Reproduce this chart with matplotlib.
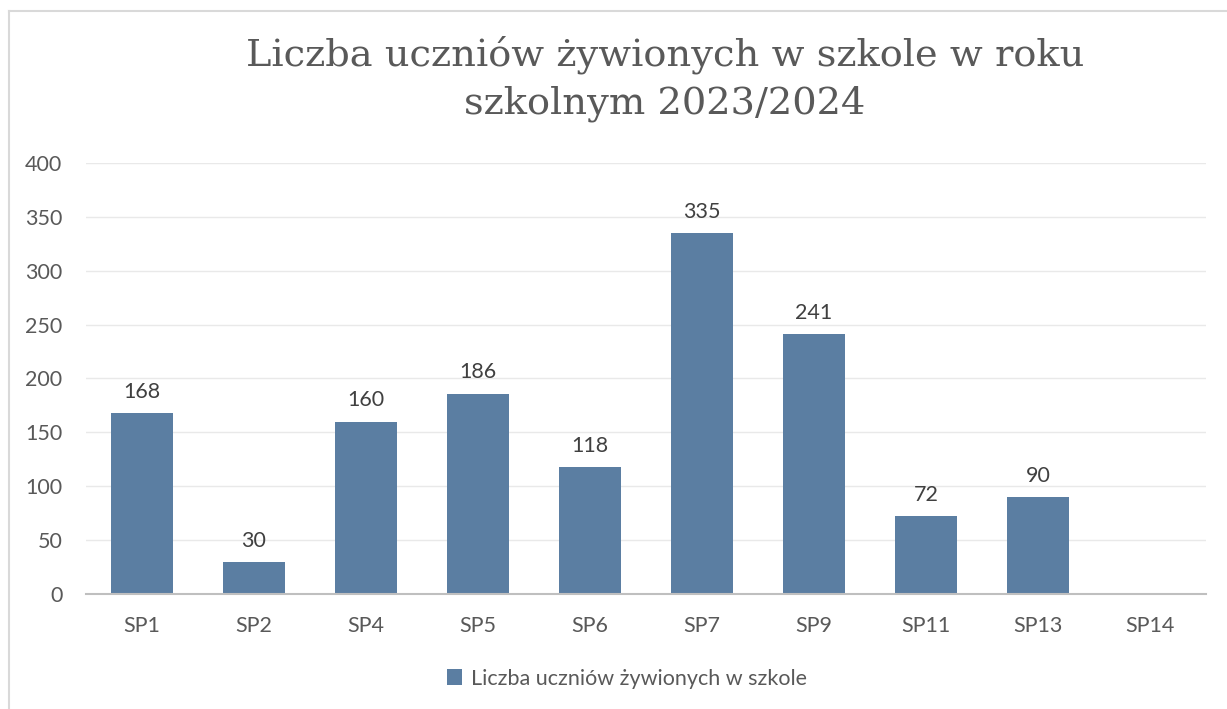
import matplotlib.pyplot as plt
from matplotlib.lines import Line2D
from matplotlib.patches import Patch

OUTPUT_FILE = "out.png"

schools = ["SP1", "SP2", "SP4", "SP5", "SP6", "SP7", "SP9", "SP11", "SP13", "SP14"]
pupils = [168, 30, 160, 186, 118, 335, 241, 72, 90, 0]
y_ticks = [0, 50, 100, 150, 200, 250, 300, 350, 400]

TITLE = "Liczba uczniów żywionych w szkole w roku\nszkolnym 2023/2024"
SERIES = "Liczba uczniów żywionych w szkole"

BAR_COLOR = "#5B7EA2"
TEXT_COLOR = "#595959"
FONT = ["Lato", "DejaVu Sans"]
FS = 15.5


def main():
    plt.rcParams["font.family"] = FONT

    fig = plt.figure(figsize=(12.27, 7.09), dpi=100)
    ax = fig.add_axes([0.0701, 0.1622, 0.9128, 0.6079])

    x = range(len(schools))
    bars = ax.bar(x, pupils, width=0.55, color=BAR_COLOR, zorder=3)

    for b, v in zip(bars, pupils):
        if v > 0:
            ax.annotate(str(v), (b.get_x() + b.get_width() / 2, v),
                        xytext=(0, 8), textcoords="offset points",
                        ha="center", va="bottom", fontsize=FS, color="#404040")

    ax.set_ylim(0, 400)
    ax.set_xlim(-0.5, len(schools) - 0.5)
    ax.set_yticks(y_ticks)
    ax.set_xticks(list(x))
    ax.set_xticklabels(schools)
    ax.tick_params(axis="both", length=0, labelsize=FS, labelcolor=TEXT_COLOR)
    ax.tick_params(axis="y", pad=17)
    ax.tick_params(axis="x", pad=16)

    ax.grid(axis="y", color="#E9E9E9", linewidth=1.0, zorder=0)
    for s in ["top", "right", "left"]:
        ax.spines[s].set_visible(False)
    ax.spines["bottom"].set_color("#BFBFBF")
    ax.spines["bottom"].set_linewidth(1.5)
    ax.spines["bottom"].set_zorder(4)

    fig.text(0.542, 0.95, TITLE, ha="center", va="top", fontsize=27.6,
             family="DejaVu Serif", color=TEXT_COLOR, linespacing=1.4)

    handles = [Patch(facecolor=BAR_COLOR, label=SERIES)]
    fig.legend(handles=handles, loc="center", bbox_to_anchor=(0.511, 0.043),
               frameon=False, fontsize=FS, labelcolor=TEXT_COLOR,
               handlelength=0.7, handleheight=0.7, handletextpad=0.4)

    # chart border (cut off on the right and bottom)
    fig.add_artist(Line2D([0.0073, 1.0], [0.9845, 0.9845], transform=fig.transFigure,
                          color="#D9D9D9", linewidth=1.5))
    fig.add_artist(Line2D([0.0073, 0.0073], [0.0, 0.9845], transform=fig.transFigure,
                          color="#D9D9D9", linewidth=1.5))

    fig.savefig(OUTPUT_FILE, dpi=100)


if __name__ == "__main__":
    main()
